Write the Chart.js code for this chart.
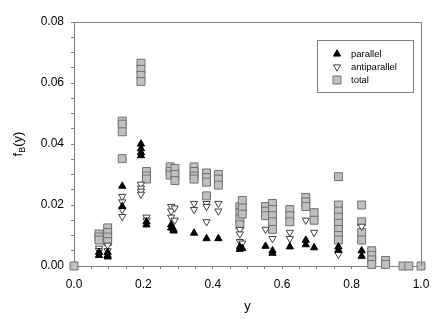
<!DOCTYPE html>
<html>
<head>
<meta charset="utf-8">
<script src="https://cdn.jsdelivr.net/npm/chart.js@4/dist/chart.umd.min.js"></script>
<style>
html,body{margin:0;padding:0;background:#fff;}
#wrap{width:443px;height:321px;position:relative;}
</style>
</head>
<body>
<div id="wrap"><canvas id="c" width="443" height="321"></canvas></div>
<script>
// ---- data ----
const seriesNames = ['parallel', 'antiparallel', 'total'];

const parallelX = [0.072,0.072, 0.097,0.097,0.097, 0.139,0.139, 0.193,0.193,0.193,0.193, 0.209,0.209,
  0.280,0.280, 0.287,0.287, 0.346, 0.382, 0.416, 0.478,0.478, 0.485, 0.552, 0.572,0.572, 0.622,
  0.668,0.668, 0.692, 0.762,0.762, 0.829,0.829];
const parallelY = [0.0045,0.0035, 0.0045,0.0035,0.0030, 0.0262,0.0195, 0.0400,0.0385,0.0372,0.0362, 0.0145,0.0135,
  0.0135,0.0125, 0.0120,0.0115, 0.0108, 0.0090, 0.0090, 0.0063,0.0055, 0.0058, 0.0065, 0.0050,0.0042, 0.0063,
  0.0085,0.0070, 0.0060, 0.0063,0.0052, 0.0050,0.0032];

const antiparallelX = [0.072,0.072, 0.097,0.097, 0.139,0.139,0.139,0.139, 0.193,0.193,0.193,0.193, 0.209,0.209,
  0.280,0.280,0.280, 0.290,0.290, 0.346,0.346, 0.382,0.382,0.382, 0.416,0.416, 0.478,0.478,0.478, 0.485,
  0.552, 0.572, 0.622,0.622, 0.668, 0.692, 0.762, 0.829];
const antiparallelY = [0.0058,0.0050, 0.0068,0.0050, 0.0228,0.0210,0.0185,0.0162, 0.0268,0.0255,0.0245,0.0235, 0.0160,0.0150,
  0.0195,0.0180,0.0160, 0.0190,0.0150, 0.0205,0.0185, 0.0205,0.0195,0.0145, 0.0205,0.0180, 0.0120,0.0105,0.0080, 0.0075,
  0.0120, 0.0090, 0.0110,0.0090, 0.0150, 0.0110, 0.0038, 0.0130];

const totalX = [0.0, 0.072,0.072,0.072, 0.097,0.097,0.097,0.097, 0.139,0.139,0.139,0.139, 0.193,0.193,0.193,0.193,
  0.209,0.209,0.209, 0.277,0.277,0.277, 0.291,0.291,0.291, 0.346,0.346,0.346,0.346, 0.382,0.382,0.382,0.382,
  0.416,0.416,0.416, 0.478,0.478,0.478,0.478, 0.485,0.485,0.485, 0.552,0.552,0.552, 0.572,0.572,0.572,0.572,0.572,
  0.622,0.622,0.622, 0.668,0.668,0.668, 0.692,0.692, 0.762,0.762,0.762,0.762,0.762,0.762,0.762,0.762,
  0.829,0.829,0.829,0.829, 0.858,0.858,0.858,0.858, 0.898,0.898, 0.948, 0.965, 1.0];
const totalY = [0.0, 0.0105,0.0095,0.0085, 0.0125,0.0110,0.0095,0.0080, 0.0475,0.0465,0.0440,0.0352, 0.0665,0.0645,0.0625,0.0605,
  0.0310,0.0295,0.0285, 0.0325,0.0310,0.0298, 0.0320,0.0300,0.0280, 0.0325,0.0310,0.0295,0.0285, 0.0305,0.0290,0.0275,0.0230,
  0.0300,0.0285,0.0265, 0.0195,0.0175,0.0155,0.0135, 0.0215,0.0190,0.0170, 0.0195,0.0180,0.0165, 0.0205,0.0185,0.0165,0.0145,0.0120,
  0.0185,0.0165,0.0145, 0.0225,0.0210,0.0195, 0.0175,0.0150, 0.0293,0.0200,0.0180,0.0160,0.0140,0.0120,0.0100,0.0085,
  0.0200,0.0145,0.0110,0.0085, 0.0050,0.0035,0.0020,0.0005, 0.0018,0.0005, 0.0, 0.0, 0.0];

const xTickLabels = ['0.0','0.2','0.4','0.6','0.8','1.0'];
const yTickLabels = ['0.00','0.02','0.04','0.06','0.08'];

function pts(xs, ys){ return xs.map((x,i)=>({x:x, y:ys[i]})); }

const FONT = '"Liberation Sans", Arial, Helvetica, sans-serif';
const AXIS_COL = '#808080';

const styles = [
  {pointStyle:'triangle', rotation:0, radius:4.2, bg:'#000000', border:'#000000'},
  {pointStyle:'triangle', rotation:180, radius:4.2, bg:'#ffffff', border:'#404040'},
  {pointStyle:'rect', rotation:0, radius:5.6, bg:'#c0c0c0', border:'#707070'}
];

const framePlugin = {
  id:'frame',
  afterDraw(chart){
    const {ctx, chartArea:a} = chart;
    ctx.save();
    ctx.strokeStyle = AXIS_COL; ctx.lineWidth = 1;
    ctx.beginPath();
    ctx.moveTo(a.left, a.top+0.5); ctx.lineTo(a.right+0.5, a.top+0.5); ctx.lineTo(a.right+0.5, a.bottom);
    ctx.stroke();
    // axis titles
    ctx.fillStyle = '#000';
    ctx.font = '13px ' + FONT;
    ctx.textAlign = 'center'; ctx.textBaseline = 'alphabetic';
    ctx.fillText('y', (a.left+a.right)/2, 310);
    // y title with subscript B
    ctx.translate(22, (a.top+a.bottom)/2);
    ctx.rotate(-Math.PI/2);
    ctx.textAlign = 'left';
    const f = 'f', b = 'B', r = '(y)';
    ctx.font = '13px ' + FONT;
    const wf = ctx.measureText(f).width;
    ctx.font = '9px ' + FONT;
    const wb = ctx.measureText(b).width;
    ctx.font = '13px ' + FONT;
    const wr = ctx.measureText(r).width;
    let x0 = -(wf+wb+wr)/2;
    ctx.fillText(f, x0, 0);
    ctx.font = '9px ' + FONT;
    ctx.fillText(b, x0+wf, 3);
    ctx.font = '13px ' + FONT;
    ctx.fillText(r, x0+wf+wb, 0);
    ctx.restore();

    // legend
    ctx.save();
    const lx = 317, ly = 40, lw = 96, lh = 52;
    ctx.fillStyle = '#fff';
    ctx.fillRect(lx, ly, lw, lh);
    ctx.strokeStyle = AXIS_COL; ctx.lineWidth = 1;
    ctx.strokeRect(lx+0.5, ly+0.5, lw, lh);
    const rowsY = [54, 67, 80];
    ctx.font = '9.5px ' + FONT;
    ctx.textBaseline = 'middle'; ctx.textAlign = 'left';
    seriesNames.forEach((name, i) => {
      const s = styles[i];
      const cx = 337, cy = rowsY[i];
      ctx.fillStyle = s.bg; ctx.strokeStyle = s.border; ctx.lineWidth = 1;
      ctx.beginPath();
      if (s.pointStyle === 'rect') {
        ctx.rect(cx-4, cy-4, 8, 8);
      } else {
        const r = s.radius; const sgn = s.rotation ? -1 : 1;
        ctx.moveTo(cx, cy - sgn*r);
        ctx.lineTo(cx + r*0.866, cy + sgn*r*0.5);
        ctx.lineTo(cx - r*0.866, cy + sgn*r*0.5);
        ctx.closePath();
      }
      ctx.fill(); ctx.stroke();
      ctx.fillStyle = '#000';
      ctx.fillText(name, 351, cy);
    });
    ctx.restore();
  }
};

function isMult(v, step){ const q = v/step; return Math.abs(q - Math.round(q)) < 1e-6; }

const datasets = [
  {label: seriesNames[0], data: pts(parallelX, parallelY)},
  {label: seriesNames[1], data: pts(antiparallelX, antiparallelY)},
  {label: seriesNames[2], data: pts(totalX, totalY)}
].map((d,i)=>Object.assign(d, {
  pointStyle: styles[i].pointStyle,
  rotation: styles[i].rotation,
  pointRadius: styles[i].radius,
  pointHoverRadius: styles[i].radius,
  backgroundColor: styles[i].bg,
  borderColor: styles[i].border,
  borderWidth: 1,
  showLine: false,
  clip: false
}));

new Chart(document.getElementById('c'), {
  type: 'scatter',
  data: { datasets },
  options: {
    responsive: false,
    animation: false,
    events: [],
    layout: { padding: { left: 0, right: 22, top: 22, bottom: 0 } },
    plugins: { legend: { display: false }, tooltip: { enabled: false } },
    scales: {
      x: {
        type: 'linear', min: 0, max: 1.0,
        afterFit(s){ s.height = 55; },
        border: { display: true, color: AXIS_COL, width: 1 },
        grid: { display: true, drawOnChartArea: false, drawTicks: true, tickLength: 3, color: AXIS_COL },
        ticks: {
          stepSize: 0.05, autoSkip: false, maxRotation: 0, padding: 8,
          color: '#000', font: { family: FONT, size: 12 },
          callback(v){ return isMult(v, 0.2) ? xTickLabels[Math.round(v/0.2)] : ''; }
        }
      },
      y: {
        type: 'linear', min: 0, max: 0.08,
        afterFit(s){ s.width = 74; },
        border: { display: true, color: AXIS_COL, width: 1 },
        grid: { display: true, drawOnChartArea: false, drawTicks: true, tickLength: 3, color: AXIS_COL },
        ticks: {
          stepSize: 0.005, autoSkip: false, padding: 7,
          color: '#000', font: { family: FONT, size: 12 },
          callback(v){ return isMult(v, 0.02) ? yTickLabels[Math.round(v/0.02)] : ''; }
        }
      }
    }
  },
  plugins: [framePlugin]
});
</script>
</body>
</html>
